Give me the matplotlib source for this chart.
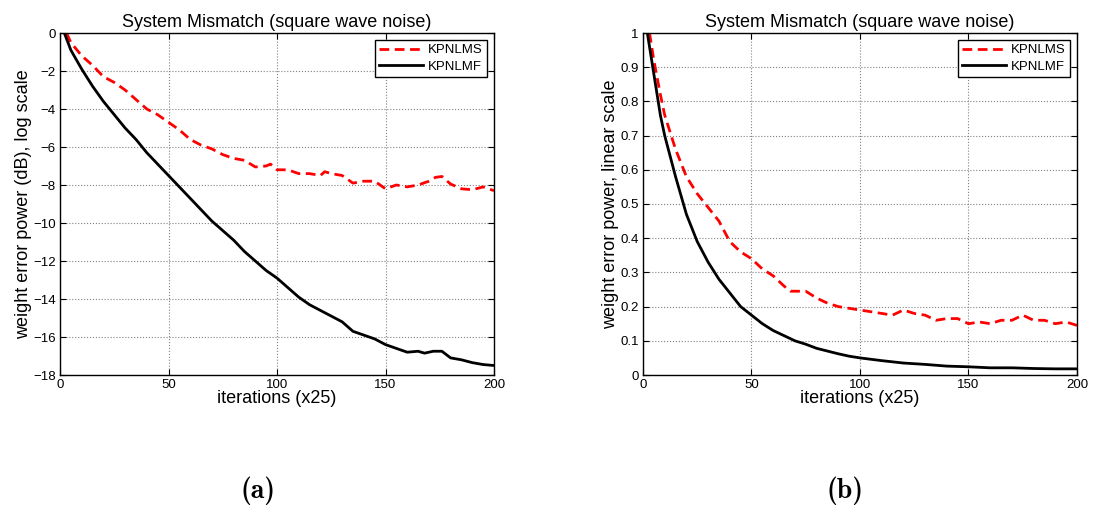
import numpy as np
import matplotlib
matplotlib.use('Agg')
import matplotlib.pyplot as plt

plt.rcParams['font.family'] = ['Liberation Sans', 'DejaVu Sans']

# ---- data ----
# panel (a): weight error power in dB
x_db_lms = [3, 5, 10, 15, 20, 25, 30, 35, 40, 45, 50, 55, 60, 65, 70, 75, 80, 85,
            90, 95, 97, 100, 105, 110, 115, 120, 122, 125, 130, 135, 140, 145,
            150, 155, 160, 165, 170, 173, 176, 180, 185, 190, 195, 200]
y_db_lms = [0, -0.5, -1.2, -1.7, -2.3, -2.6, -3.0, -3.5, -4.0, -4.3, -4.7, -5.1,
            -5.6, -5.9, -6.1, -6.4, -6.6, -6.7, -7.05, -7.0, -6.9, -7.2, -7.2,
            -7.4, -7.4, -7.5, -7.3, -7.4, -7.5, -7.9, -7.8, -7.8, -8.2, -8.0,
            -8.1, -8.0, -7.8, -7.6, -7.55, -7.95, -8.2, -8.25, -8.1, -8.3]

x_db_lmf = [2, 5, 10, 15, 20, 25, 30, 35, 40, 45, 50, 55, 60, 65, 70, 75, 80, 85,
            90, 95, 100, 105, 110, 115, 120, 125, 130, 135, 140, 145, 150, 155,
            160, 165, 168, 172, 176, 180, 185, 190, 195, 200]
y_db_lmf = [0, -0.9, -1.9, -2.8, -3.6, -4.3, -5.0, -5.6, -6.3, -6.9, -7.5, -8.1,
            -8.7, -9.3, -9.9, -10.4, -10.9, -11.5, -12.0, -12.5, -12.9, -13.4,
            -13.9, -14.3, -14.6, -14.9, -15.2, -15.7, -15.9, -16.1, -16.4, -16.6,
            -16.8, -16.75, -16.85, -16.75, -16.75, -17.1, -17.2, -17.35, -17.45, -17.5]

# panel (b): weight error power, linear
x_lin_lms = [3, 5, 8, 10, 15, 20, 25, 30, 35, 40, 45, 50, 55, 60, 65, 68, 75, 80,
             85, 90, 95, 100, 105, 110, 115, 120, 125, 130, 135, 140, 145, 150,
             155, 160, 165, 170, 175, 180, 185, 190, 195, 200]
y_lin_lms = [1.0, 0.92, 0.82, 0.76, 0.66, 0.58, 0.53, 0.49, 0.45, 0.39, 0.36, 0.34,
             0.31, 0.29, 0.26, 0.245, 0.245, 0.225, 0.21, 0.2, 0.195, 0.19, 0.185,
             0.18, 0.175, 0.19, 0.18, 0.175, 0.16, 0.165, 0.165, 0.15, 0.155, 0.15,
             0.16, 0.16, 0.175, 0.16, 0.16, 0.15, 0.155, 0.145]

x_lin_lmf = [2, 5, 8, 10, 15, 20, 25, 30, 35, 40, 45, 50, 55, 60, 65, 70, 75, 80,
             85, 90, 95, 100, 110, 120, 130, 140, 150, 160, 170, 180, 190, 200]
y_lin_lmf = [1.0, 0.88, 0.76, 0.70, 0.58, 0.47, 0.39, 0.33, 0.28, 0.24, 0.20, 0.175,
             0.15, 0.13, 0.115, 0.10, 0.09, 0.078, 0.07, 0.062, 0.055, 0.05, 0.042,
             0.035, 0.031, 0.026, 0.024, 0.021, 0.021, 0.019, 0.018, 0.018]

title = 'System Mismatch (square wave noise)'
xlabel = 'iterations (x25)'

fig = plt.figure(figsize=(10.98, 5.12), dpi=100)
W, H = 1098, 512
ax1 = fig.add_axes([60 / W, (H - 375) / H, 434 / W, 342 / H])
ax2 = fig.add_axes([643 / W, (H - 375) / H, 434 / W, 342 / H])


def style(ax):
    ax.set_xlim(0, 200)
    ax.set_xticks([0, 50, 100, 150, 200])
    ax.grid(True, color='#808080', ls=':', lw=0.8)
    ax.tick_params(direction='in', top=True, right=True, labelsize=9.5,
                   length=4, width=0.8, pad=3)
    for s in ax.spines.values():
        s.set_linewidth(1.0)
    ax.set_title(title, fontsize=13, pad=4)
    ax.set_xlabel(xlabel, fontsize=13, labelpad=-1)
    leg = ax.legend(loc='upper right', fontsize=9.5, fancybox=False,
                    framealpha=1, edgecolor='black', borderpad=0.35,
                    handlelength=3.3, handletextpad=0.4, borderaxespad=0.5,
                    labelspacing=0.3)
    leg.get_frame().set_linewidth(1.0)


ax1.plot(x_db_lms, y_db_lms, color='red', ls=(0, (3.5, 2)), lw=2, label='KPNLMS')
ax1.plot(x_db_lmf, y_db_lmf, color='black', lw=2, label='KPNLMF')
ax1.set_ylim(-18, 0)
ax1.set_yticks(np.arange(-18, 1, 2))
ax1.set_ylabel('weight error power (dB), log scale', fontsize=13, labelpad=1)
style(ax1)

ax2.plot(x_lin_lms, y_lin_lms, color='red', ls=(0, (3.5, 2)), lw=2, label='KPNLMS')
ax2.plot(x_lin_lmf, y_lin_lmf, color='black', lw=2, label='KPNLMF')
ax2.set_ylim(0, 1)
ax2.set_yticks(np.round(np.arange(0, 1.01, 0.1), 1))
ax2.set_yticklabels(['0', '0.1', '0.2', '0.3', '0.4', '0.5', '0.6', '0.7',
                     '0.8', '0.9', '1'])
ax2.set_ylabel('weight error power, linear scale', fontsize=13, labelpad=1)
style(ax2)

fig.text(258 / W, 1 - 491 / H, '(a)', family='cmb10', fontsize=20, ha='center', va='center')
fig.text(845 / W, 1 - 491 / H, '(b)', family='cmb10', fontsize=20, ha='center', va='center')

fig.savefig('out.png', dpi=100)
